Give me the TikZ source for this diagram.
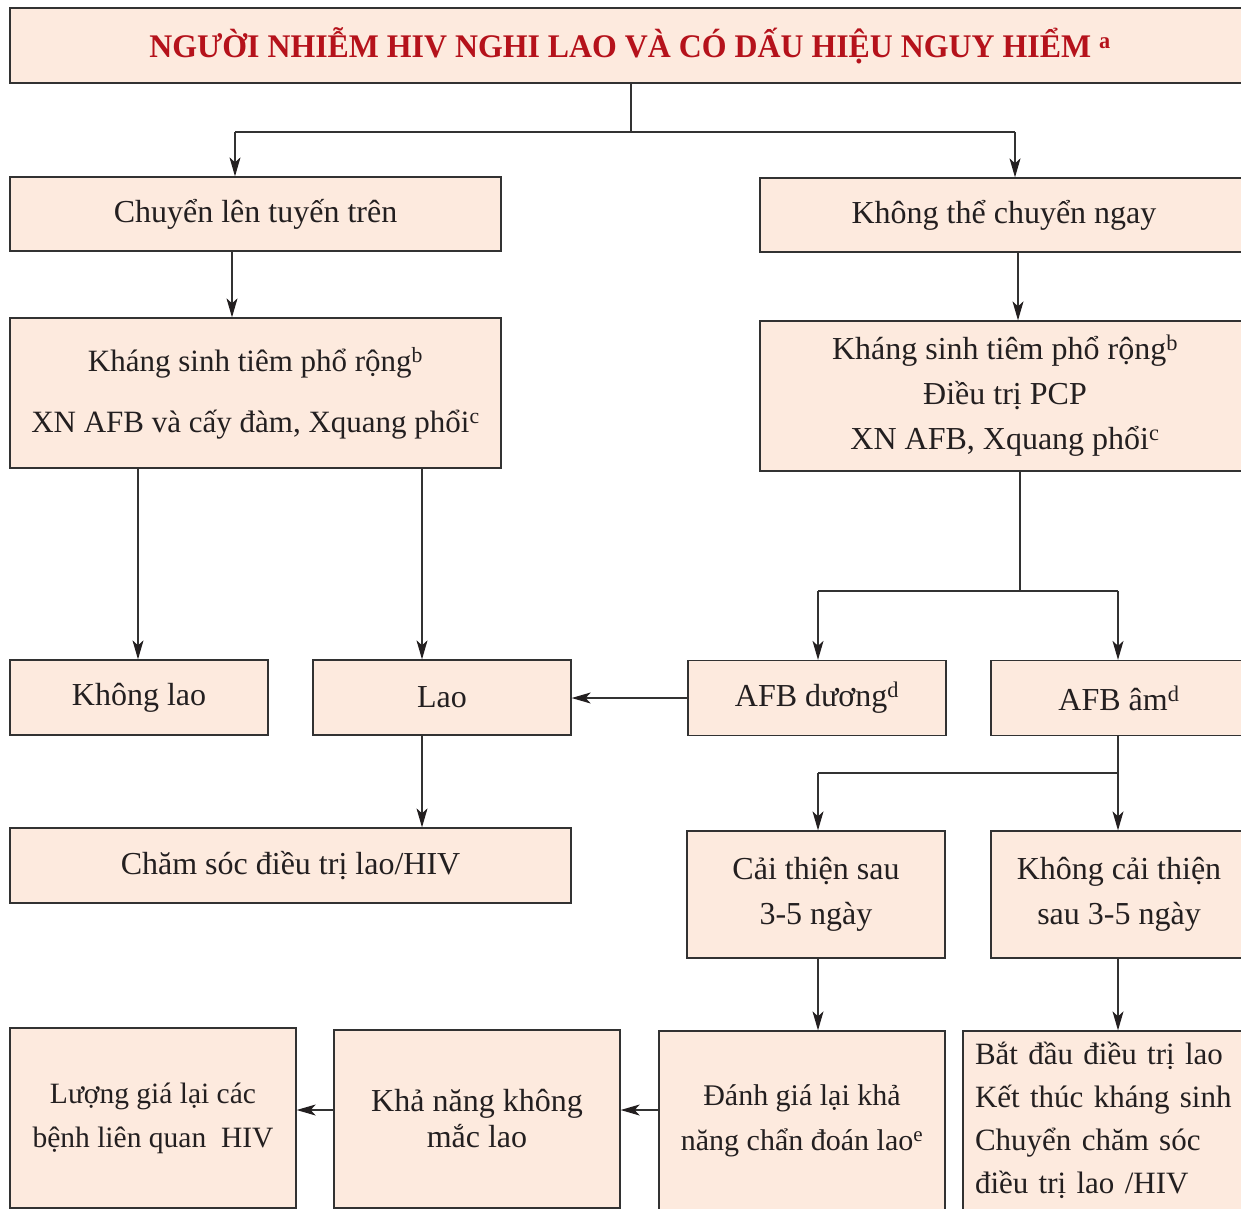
\documentclass[tikz,border=0pt]{standalone}
\usepackage{fontspec}
\setmainfont{Liberation Serif}
\usetikzlibrary{arrows.meta}
\definecolor{boxfill}{RGB}{253,234,222}
\definecolor{boxline}{RGB}{50,50,50}
\definecolor{titlered}{RGB}{181,18,27}
\definecolor{inkdark}{RGB}{35,31,32}
\tikzset{
  box/.style={draw=boxline, line width=1.3pt, fill=boxfill, inner sep=0pt,
    align=center, font=\fontsize{32}{45}\selectfont, text=inkdark},
  arr/.style={draw=boxline, line width=1.3pt,
    -{Stealth[length=19pt,width=11pt,inset=5pt,color=inkdark]}},
  ln/.style={draw=boxline, line width=1.3pt},
}
\begin{document}
\begin{tikzpicture}[x=1pt,y=-1pt]
\useasboundingbox (0,0) rectangle (1241,1208);
\clip (0,0) rectangle (1241,1208);
\fill[white] (0,0) rectangle (1241,1208);

% title
\node[box, minimum width=1240pt, minimum height=75pt, font=\fontsize{33}{36}\selectfont\bfseries, text=titlered] (title) at (630,45.5)
  {\scalebox{0.965}[1]{NGƯỜI NHIỄM HIV NGHI LAO VÀ CÓ DẤU HIỆU NGUY HIỂM \textsuperscript{a}}};

% second row
\node[box, minimum width=491pt, minimum height=74pt] (up1) at (255.5,214) {Chuyển lên tuyến trên};
\node[box, minimum width=488pt, minimum height=74pt] (up2) at (1004,215) {Không thể chuyển ngay};

% third row
\node[box, minimum width=491pt, minimum height=150pt, font=\fontsize{31}{61}\selectfont] (ks1) at (255.5,393)
  {Kháng sinh tiêm phổ rộng\textsuperscript{b}\\XN AFB và cấy đàm, Xquang phổi\textsuperscript{c}};
\node[box, minimum width=490pt, minimum height=150pt] (ks2) at (1005,396)
  {Kháng sinh tiêm phổ rộng\textsuperscript{b}\\Điều trị PCP\\XN AFB, Xquang phổi\textsuperscript{c}};

% fourth row
\node[box, minimum width=258pt, minimum height=75pt] (khonglao) at (139,697.5) {Không lao};
\node[box, minimum width=258pt, minimum height=75pt] (lao) at (442,697.5) {Lao};
\node[box, minimum width=258pt, minimum height=75pt] (afbd) at (817,698) {AFB dương\textsuperscript{d}};
\node[box, minimum width=256pt, minimum height=75pt] (afba) at (1119,698) {AFB âm\textsuperscript{d}};

% fifth row
\node[box, minimum width=561pt, minimum height=75pt] (cs) at (290.5,865.5) {Chăm sóc điều trị lao/HIV};
\node[box, minimum width=258pt, minimum height=127pt] (ct) at (816,894.5) {Cải thiện sau\\3-5 ngày};
\node[box, minimum width=256pt, minimum height=127pt] (kct) at (1119,894.5) {Không cải thiện\\sau 3-5 ngày};

% bottom row
\node[box, minimum width=286pt, minimum height=180pt, font=\fontsize{29.5}{44}\selectfont] (lg) at (153,1118) {Lượng giá lại các\\bệnh liên quan\ \ HIV};
\node[box, minimum width=286pt, minimum height=178pt, font=\fontsize{32}{36}\selectfont] (kn) at (477,1119) {Khả năng không\\mắc lao};
\node[box, minimum width=286pt, minimum height=179pt, font=\fontsize{30}{45}\selectfont] (dg) at (802,1120.5) {Đánh giá lại khả\\năng chẩn đoán lao\textsuperscript{e}};
\node[box, minimum width=299pt, minimum height=179pt, align=left, text width=275pt, inner xsep=12pt, font=\fontsize{31}{43}\selectfont] (bd) at (1112.5,1120.5)
  {Bắt đầu điều trị lao\\Kết thúc kháng sinh\\Chuyển chăm sóc\\điều trị lao /HIV};

% connectors: title split
\coordinate (jt) at (631,132);
\coordinate (jl) at (235,132);
\coordinate (jr) at (1015,132);
\draw[ln] (title.south -| jt) -- (jt);
\draw[ln] (jl) -- (jr);
\draw[arr] (jl) -- (up1.north -| jl);
\draw[arr] (jr) -- (up2.north -| jr);

% down to treatment boxes
\draw[arr] (up1.south -| 232,0) -- (ks1.north -| 232,0);
\draw[arr] (up2.south -| 1018,0) -- (ks2.north -| 1018,0);

% left branch
\draw[arr] (ks1.south -| 138,0) -- (khonglao.north -| 138,0);
\draw[arr] (ks1.south -| 422,0) -- (lao.north -| 422,0);

% right branch split
\coordinate (ja) at (1020,591);
\coordinate (jal) at (818,591);
\coordinate (jar) at (1118,591);
\draw[ln] (ks2.south -| ja) -- (ja);
\draw[ln] (jal) -- (jar);
\draw[arr] (jal) -- (afbd.north -| jal);
\draw[arr] (jar) -- (afba.north -| jar);

% positive smear leads to TB
\draw[arr] (afbd.west) -- (lao.east |- afbd.west);
\draw[arr] (lao.south -| 422,0) -- (cs.north -| 422,0);

% negative smear split
\coordinate (jb) at (1118,773);
\coordinate (jbl) at (818,773);
\draw[ln] (afba.south -| jb) -- (jb) -- (jbl);
\draw[arr] (jbl) -- (ct.north -| jbl);
\draw[arr] (jb) -- (kct.north -| jb);

\draw[arr] (ct.south -| 818,0) -- (dg.north -| 818,0);
\draw[arr] (kct.south -| 1118,0) -- (bd.north -| 1118,0);

% bottom chain
\draw[arr] (dg.west |- 0,1110) -- (kn.east |- 0,1110);
\draw[arr] (kn.west |- 0,1110) -- (lg.east |- 0,1110);
\end{tikzpicture}
\end{document}
